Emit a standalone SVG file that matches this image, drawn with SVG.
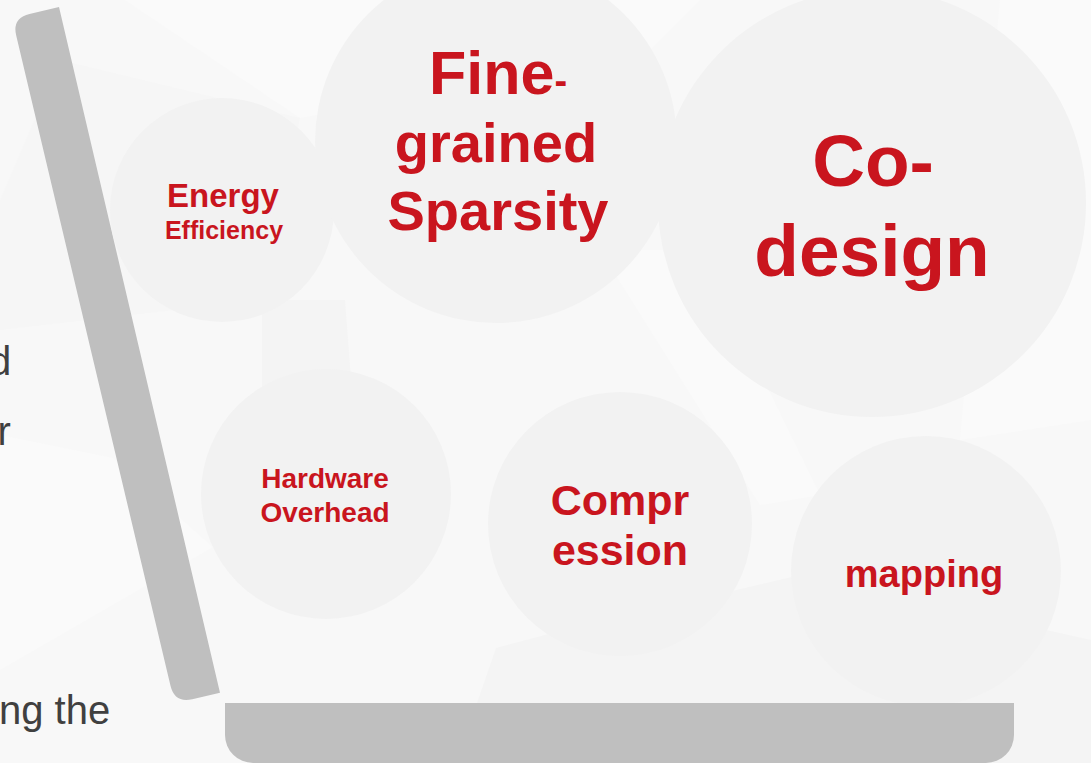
<svg xmlns="http://www.w3.org/2000/svg" width="1091" height="763" viewBox="0 0 1091 763">
  <defs>
    <style>
      .bubble { fill: #f2f2f2; }
      .frame { fill: #bfbfbf; }
      .label { font-family: "Liberation Sans", Arial, sans-serif; font-weight: bold; fill: #c9151e; text-anchor: middle; }
      .body { font-family: "Liberation Sans", Arial, sans-serif; fill: #404040; font-size: 40px; }
      .facet-a { fill: #fafafa; }
      .facet-b { fill: #f4f4f4; }
      .facet-c { fill: #f6f6f6; }
    </style>
  </defs>

  <!-- backdrop with faint low-poly facets -->
  <rect x="0" y="0" width="1091" height="763" fill="#f8f8f8"/>
  <g id="backdrop">
    <polygon class="facet-a" points="125,0 700,0 640,60 300,118"/>
    <polygon class="facet-c" points="60,60 300,118 262,300 0,330 0,200"/>
    <polygon class="facet-b" points="262,300 345,300 352,392 262,405"/>
    <polygon class="facet-a" points="0,435 113,458 213,547 0,670"/>
    <polygon class="facet-a" points="600,250 700,250 820,495 760,505"/>
    <polygon class="facet-b" points="406,590 496,648 545,635 800,575 1091,640 1091,763 477,763 477,703 496,648"/>
    <polygon class="facet-a" points="1000,0 1091,0 1091,420 960,440"/>
  </g>

  <!-- screen edge of the laptop -->
  <g id="screen">
    <path class="frame" d="M59,7 L220,692.7 L192.3,699.2 Q174.7,703.3 170.5,685.8 L16.2,35.6 Q12,18.1 29.5,13.9 Z"/>
  </g>

  <!-- topic bubbles -->
  <g id="node-energy">
    <circle class="bubble" cx="222" cy="210" r="112"/>
    <text class="label" x="223" y="207" font-size="33">Energy</text>
    <text class="label" x="224" y="239" font-size="25">Efficiency</text>
  </g>
  <g id="node-sparsity">
    <circle class="bubble" cx="496" cy="142" r="181"/>
    <text class="label" x="498" y="94" font-size="61">Fine<tspan font-size="38">-</tspan></text>
    <text class="label" x="496" y="162" font-size="56">grained</text>
    <text class="label" x="498" y="230" font-size="56">Sparsity</text>
  </g>
  <g id="node-codesign">
    <circle class="bubble" cx="872" cy="203" r="214"/>
    <text class="label" x="873" y="186" font-size="73">Co-</text>
    <text class="label" x="872" y="276" font-size="73">design</text>
  </g>
  <g id="node-hardware">
    <circle class="bubble" cx="326" cy="494" r="125"/>
    <text class="label" x="325" y="488" font-size="28">Hardware</text>
    <text class="label" x="325" y="522" font-size="28">Overhead</text>
  </g>
  <g id="node-compression">
    <circle class="bubble" cx="620" cy="524" r="132"/>
    <text class="label" x="620" y="515" font-size="43">Compr</text>
    <text class="label" x="620" y="565" font-size="43">ession</text>
  </g>
  <g id="node-mapping">
    <circle class="bubble" cx="926" cy="571" r="135"/>
    <text class="label" x="924" y="587" font-size="38">mapping</text>
  </g>

  <!-- base of the laptop -->
  <g id="base">
    <path class="frame" d="M225,703 H1014 V735 A28,28 0 0 1 986,763 H253 A28,28 0 0 1 225,735 Z"/>
  </g>

  <!-- body copy running in from the left edge -->
  <g id="body-copy">
    <text class="body" x="-11" y="375">d</text>
    <text class="body" x="-2.5" y="445">r</text>
    <text class="body" x="-1" y="724">ng the</text>
  </g>

  <g id="connectors"/>
</svg>
